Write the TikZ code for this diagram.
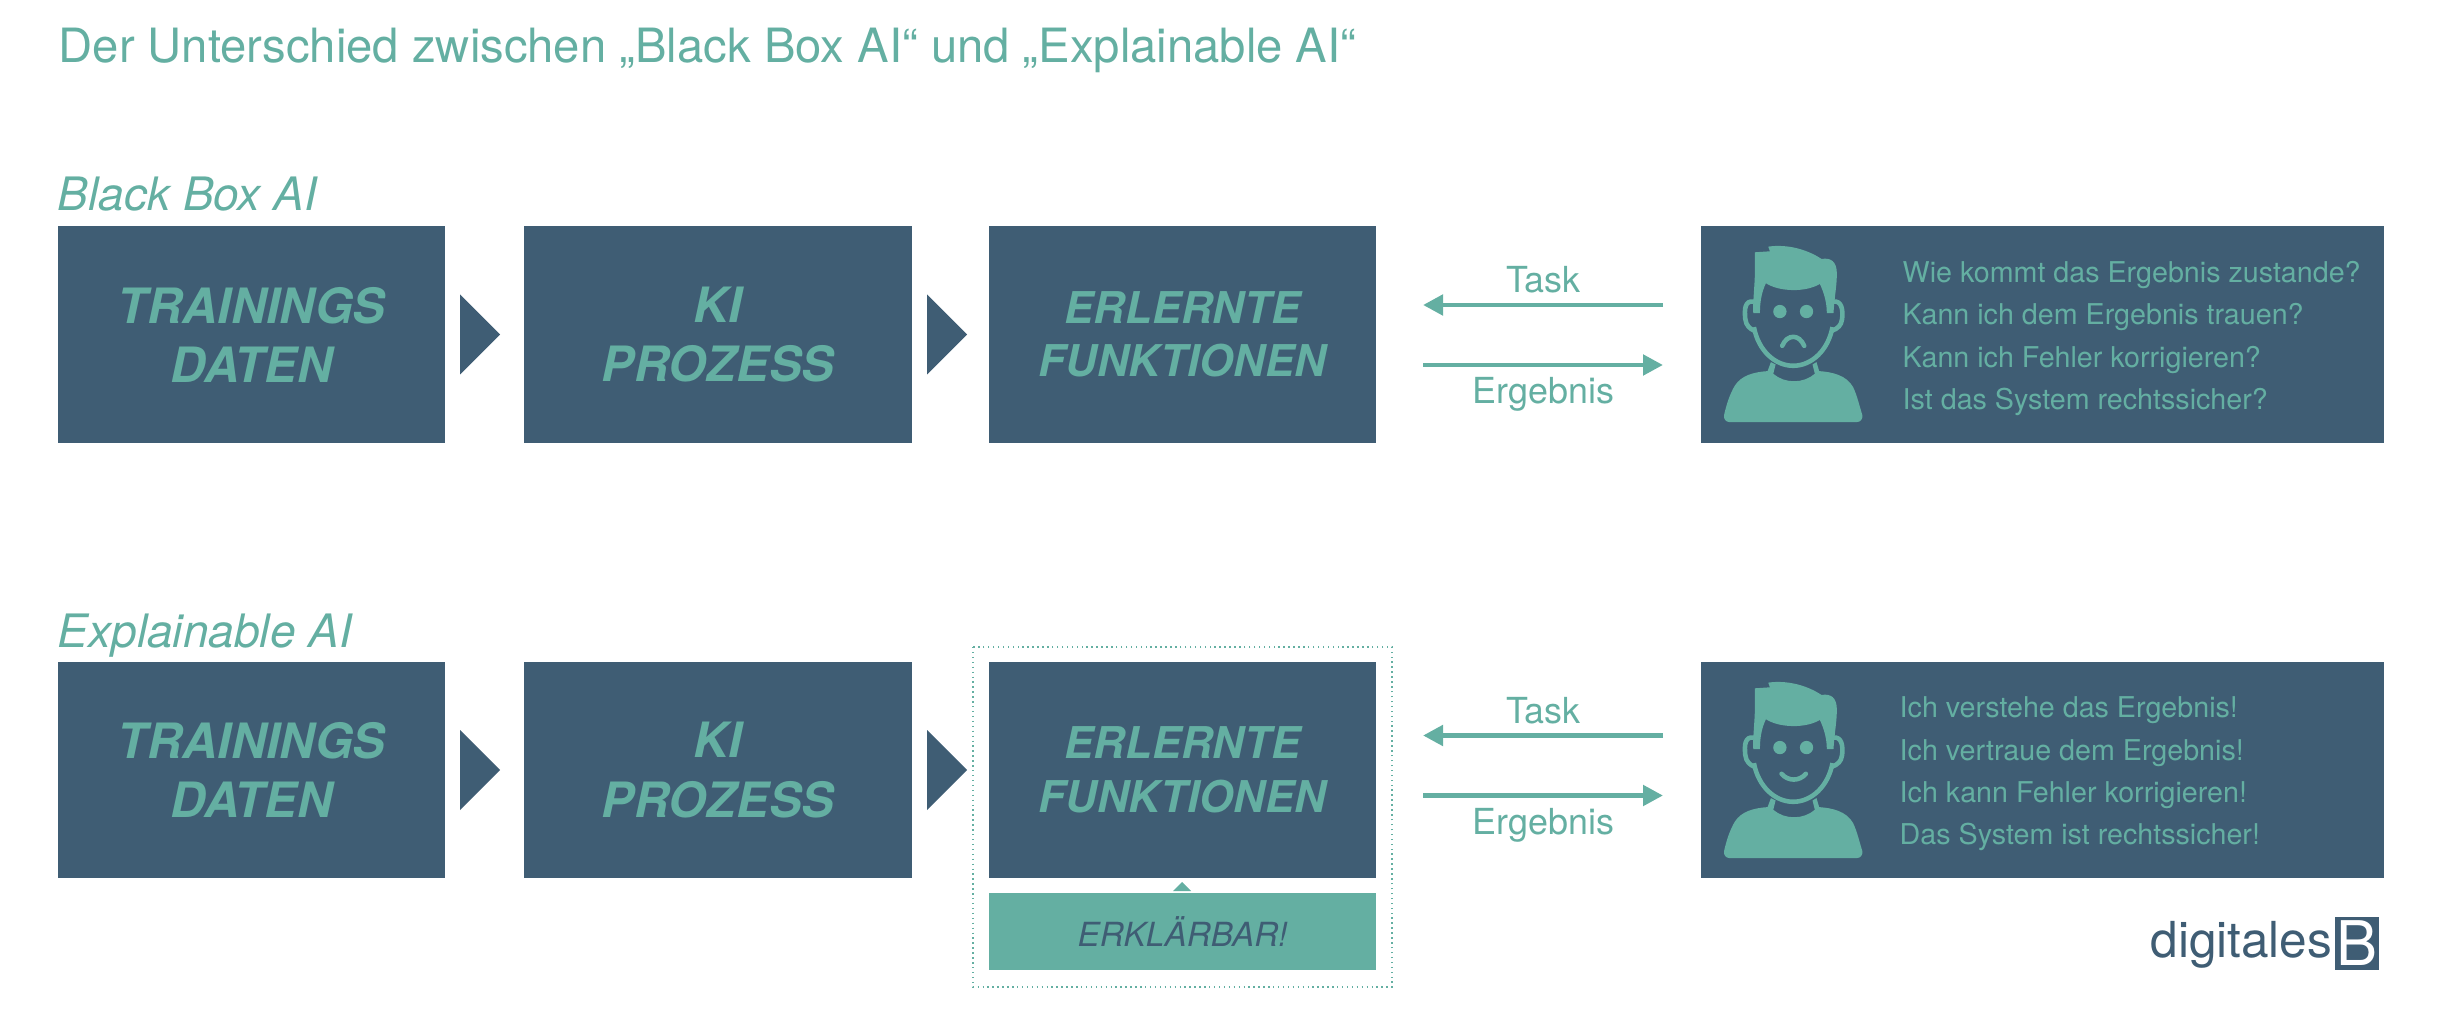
\documentclass[tikz,border=0pt]{standalone}
\usepackage{fontspec}
\setmainfont{TeX Gyre Heros}
\usepackage{tikz}
\usetikzlibrary{arrows.meta}
\definecolor{boxblue}{HTML}{3F5D74}
\definecolor{boxgreen}{HTML}{64AFA2}
\tikzset{%
  every block/.style={
    fill=boxblue,
    text=boxgreen,
    minimum width=3.87cm,
    minimum height=2.16cm,
    inner sep=0pt,
    align=center
  },
  big label/.style={
    font=\fontsize{13.85}{16.8}\selectfont\bfseries\itshape
  },
  small label/.style={
    font=\fontsize{12.45}{15.2}\selectfont\bfseries\itshape
  },
  flow arrow/.style={
    draw=boxgreen,
    line width=1.4pt,
    -{Triangle[length=2mm,width=2mm]}
  },
  flow label/.style={
    text=boxgreen,
    inner sep=0pt,
    font=\fontsize{10.2}{12}\selectfont
  },
  question/.style={
    text=boxgreen,
    inner sep=0pt,
    align=left,
    anchor=west,
    font=\fontsize{8.15}{12.05}\selectfont
  },
  heading/.style={
    text=boxgreen,
    inner sep=0pt,
    anchor=base west
  },
  pics/person/.style={
    code={
      \begin{scope}[x=0.00333cm,y=-0.00333cm,fill=boxgreen,draw=boxgreen]
        % shoulders with the collar cut out
        \fill (72,545) .. controls (80,510) and (90,480) .. (105,455)
          .. controls (125,425) and (160,415) .. (203,412) -- (213,385) -- (227,392) -- (220,420)
          .. controls (255,450) and (310,450) .. (345,420) -- (338,392) -- (350,385) -- (358,412)
          .. controls (400,415) and (440,425) .. (460,460)
          .. controls (472,485) and (480,520) .. (488,545)
          .. controls (489,556) and (482,565) .. (472,565) -- (88,565)
          .. controls (78,565) and (71,556) .. (72,545) -- cycle;
        % hair
        \fill (165,55) -- (210,52) -- (205,38) .. controls (260,30) and (320,45) .. (365,75)
          .. controls (395,70) and (410,85) .. (411,115)
          .. controls (412,150) and (405,180) .. (401,238) -- (381,238)
          .. controls (381,205) and (372,175) .. (360,150)
          .. controls (320,175) and (240,175) .. (198,148)
          .. controls (185,175) and (180,205) .. (180,238) -- (160,238)
          .. controls (158,205) and (165,150) .. (165,110) -- cycle;
        % face and ears
        \draw[line width=1.3pt] (162,280) .. controls (175,350) and (225,396) .. (280,396)
          .. controls (335,396) and (385,350) .. (398,280);
        \draw[line width=1.3pt,line cap=round] (160,203) .. controls (135,200) and (133,225) .. (136,255)
          .. controls (138,275) and (150,285) .. (162,290);
        \draw[line width=1.3pt,line cap=round] (400,203) .. controls (425,200) and (430,225) .. (427,255)
          .. controls (425,275) and (412,285) .. (398,290);
        \fill (240,233) circle (20);
        \fill (320,233) circle (20);
        % mouth
        \draw[line width=1.3pt,line cap=round] #1;
      \end{scope}
    }
  },
}

\begin{document}
\begin{tikzpicture}[x=0.01cm,y=-0.01cm]
  \useasboundingbox (0,0) rectangle (2440,1016);

  \node[heading,font=\fontsize{13.43}{15}\selectfont] (title) at (58,63)
    {Der Unterschied zwischen „Black Box AI“ und „Explainable AI“};
  \node[heading,font=\fontsize{13.1}{15}\selectfont\itshape] (headblack) at (57,211) {Black Box AI};
  \node[heading,font=\fontsize{13.1}{15}\selectfont\itshape] (headexpl) at (57,647) {Explainable AI};

  % both rows have the same blocks and arrows
  \foreach \r/\y/\a/\t/\b in {top/334.5/335/280/394,low/770/765.5/711/825} {
    \node[every block,big label] (\r data) at (251.5,\y) {TRAININGS\\DATEN};
    \node[every block,big label] (\r proc) at (718,\y) {KI\\PROZESS};
    \node[every block,small label] (\r func) at (1182.5,\y) {ERLERNTE\\FUNKTIONEN};
    \node[every block,minimum width=6.83cm] (\r user) at (2042.5,\y) {};
    \fill[boxblue] (460,\y-40) -- (500,\y) -- (460,\y+40) -- cycle;
    \fill[boxblue] (927,\y-40) -- (967,\y) -- (927,\y+40) -- cycle;
    \coordinate (\r taskin) at (1663,\a-30);
    \coordinate (\r taskout) at (1423,\a-30);
    \coordinate (\r resin) at (1423,\a+30);
    \coordinate (\r resout) at (1663,\a+30);
    \draw[flow arrow] (\r taskin) -- (\r taskout);
    \draw[flow arrow] (\r resin) -- (\r resout);
    \node[flow label] (\r task) at (1543.5,\t) {Task};
    \node[flow label] (\r res) at (1543.5,\b) {Ergebnis};
  }

  \pic at (1700,234) {person={(247,336) .. controls (262,300) and (298,300) .. (313,336)}};
  \pic at (1700,670) {person={(245,312) .. controls (265,335) and (298,335) .. (318,312)}};

  \node[question] (topquest) at (1902,338.5) {Wie kommt das Ergebnis zustande?\\Kann ich dem Ergebnis trauen?\\Kann ich Fehler korrigieren?\\Ist das System rechtssicher?};
  \node[question] (lowquest) at (1899,774) {Ich verstehe das Ergebnis!\\Ich vertraue dem Ergebnis!\\Ich kann Fehler korrigieren!\\Das System ist rechtssicher!};

  % explanation under the learned functions
  \node[fill=boxgreen,text=boxblue,minimum width=3.87cm,minimum height=0.77cm,inner sep=0pt,
    font=\fontsize{9.45}{12}\selectfont\itshape] (explain) at (1182.5,931.5) {ERKLÄRBAR!};
  \fill[boxgreen] (1173,891) -- (1182,882) -- (1191,891) -- cycle;
  \draw[boxgreen,densely dotted,line width=0.4pt] (973,647) rectangle (1392,987);

  % logo
  \node[text=boxblue,inner sep=0pt,anchor=base east,font=\fontsize{14.1}{18}\selectfont] (logotext) at (2333,957) {digitales};
  \node[fill=boxblue,text=white,inner sep=0pt,minimum width=0.44cm,minimum height=0.53cm,
    font=\fontsize{17.5}{18}\selectfont] (logob) at (2357,943.5) {B};
\end{tikzpicture}
\end{document}
